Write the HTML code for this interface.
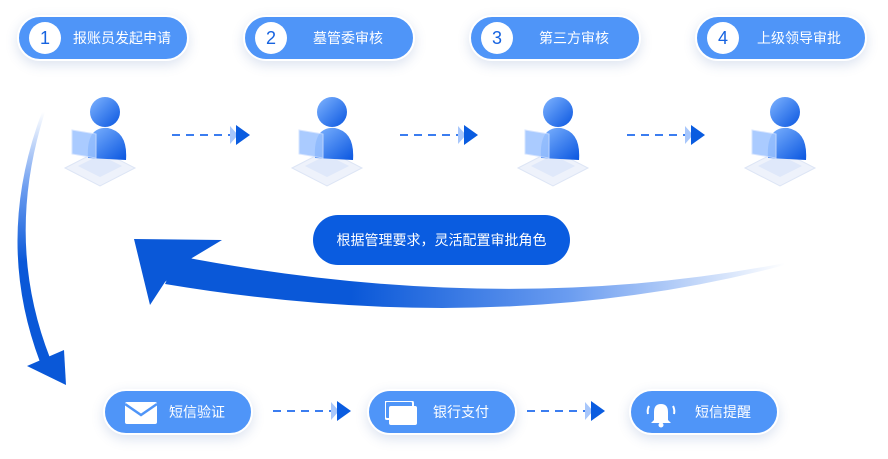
<!DOCTYPE html>
<html><head><meta charset="utf-8"><style>
body{margin:0;width:888px;height:459px;background:#fff;position:relative;overflow:hidden;font-family:"Liberation Sans","Noto Sans CJK SC",sans-serif}
.pill{position:absolute;height:46px;border-radius:23px;background:#4f95f8;border:2px solid #fff;box-shadow:0 4px 12px rgba(60,100,170,.18);color:#fff;font-size:14px;box-sizing:border-box}
.num{position:absolute;left:10px;top:5px;width:32px;height:32px;border-radius:50%;background:#fff;color:#1663e0;font-size:18px;text-align:center;line-height:32px}
.pill span.t{position:absolute;top:0;line-height:42px}
.lbl{position:absolute;left:313px;top:215px;width:257px;height:50px;border-radius:25px;background:#0a5ce0;color:#fff;font-size:14px;text-align:center;line-height:50px}
</style></head><body>
<svg width="888" height="459" style="position:absolute;left:0;top:0">
<defs>
<linearGradient id="g1" x1="0" y1="0" x2="0" y2="1"><stop offset="0" stop-color="#fff"/><stop offset=".3" stop-color="#6e9ef0"/><stop offset=".6" stop-color="#0a58d8"/></linearGradient>
<linearGradient id="g2" x1="1" y1="0" x2="0" y2="0"><stop offset="0" stop-color="#fff"/><stop offset=".35" stop-color="#6a9cf0"/><stop offset=".7" stop-color="#0a58d8"/></linearGradient>
<linearGradient id="pb" x1="0" y1="0" x2="1" y2="1"><stop offset="0" stop-color="#7fb4ff"/><stop offset="1" stop-color="#0a56e0"/></linearGradient>
<g id="person">
<path d="M-35 34 L0 16 L35 34 L0 52 Z" fill="#eef2fb" stroke="#dde5f5"/>
<path d="M-22 32 L0 21 L22 32 L0 43 Z" fill="#dfe8fa"/>
<circle cx="5" cy="-22" r="15" fill="url(#pb)"/>
<path d="M-12 24 Q-14 -8 8 -6 Q28 -2 26 26 Z" fill="url(#pb)"/>
<path d="M-28 -4 L-4 0 L-4 24 L-28 20 Z" fill="#9cc3ff" opacity=".85" stroke="#cfe0ff"/>
</g>
<g id="dash"><path d="M0 0 H58" stroke="#3b7df0" stroke-width="2" stroke-dasharray="8 6"/><path d="M58 -9 L66 0 L58 9Z" fill="#a8c7fb"/><path d="M64 -10 L78 0 L64 10Z" fill="#0a5ce0"/></g>
</defs>
<use href="#person" x="100" y="134"/><use href="#person" x="327" y="134"/><use href="#person" x="553" y="134"/><use href="#person" x="780" y="134"/>
<use href="#dash" x="172" y="135"/><use href="#dash" x="400" y="135"/><use href="#dash" x="627" y="135"/>
<use href="#dash" x="273" y="411"/><use href="#dash" x="527" y="411"/>
<path d="M45 112 Q4 240 50 358 L40 362 Q-6 240 42 112 Z" fill="url(#g1)"/>
<path d="M27 366 L64 350 L66 385 Z" fill="#0a58d8"/>
<path d="M785 265 Q500 340 165 284 L178 256 Q500 318 785 263 Z" fill="url(#g2)"/>
<path d="M134 239 L222 240 L192 258 L165 282 L150 305 Z" fill="#0a58d8"/>
</svg>
<div class="pill" style="left:17px;top:15px;width:172px"><div class="num">1</div><span class="t" style="left:54px">报账员发起申请</span></div>
<div class="pill" style="left:243px;top:15px;width:172px"><div class="num">2</div><span class="t" style="left:68px">墓管委审核</span></div>
<div class="pill" style="left:469px;top:15px;width:172px"><div class="num">3</div><span class="t" style="left:68px">第三方审核</span></div>
<div class="pill" style="left:695px;top:15px;width:172px"><div class="num">4</div><span class="t" style="left:60px">上级领导审批</span></div>
<div class="lbl">根据管理要求，灵活配置审批角色</div>
<div class="pill" style="left:103px;top:389px;width:150px"><svg style="position:absolute;left:20px;top:11px" width="32" height="22"><rect width="32" height="22" rx="2" fill="#fff"/><path d="M0 2 L16 13 L32 2" stroke="#4f95f8" stroke-width="2.5" fill="none"/></svg><span class="t" style="left:64px">短信验证</span></div>
<div class="pill" style="left:367px;top:389px;width:150px"><svg style="position:absolute;left:16px;top:10px" width="32" height="24"><rect x="0" y="0" width="28" height="18" rx="2" fill="none" stroke="#fff" stroke-width="2"/><rect x="4" y="5" width="28" height="19" rx="2" fill="#fff"/></svg><span class="t" style="left:64px">银行支付</span></div>
<div class="pill" style="left:629px;top:389px;width:150px"><svg style="position:absolute;left:14px;top:9px" width="32" height="28"><path d="M9 20 V12 Q9 4 16 4 Q23 4 23 12 V20 L26 23 H6 Z" fill="#fff"/><circle cx="16" cy="25" r="2.5" fill="#fff"/><path d="M4 6 Q2 10 3 14 M28 6 Q30 10 29 14" stroke="#fff" stroke-width="2" fill="none"/></svg><span class="t" style="left:64px">短信提醒</span></div>
</body></html>
